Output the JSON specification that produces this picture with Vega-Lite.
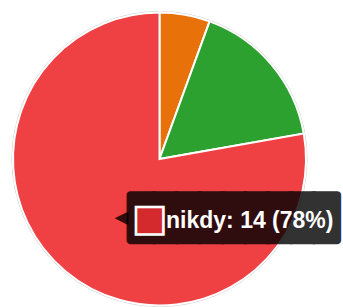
{
  "$schema": "https://vega.github.io/schema/vega-lite/v6.json",
  "width": 319,
  "height": 318,
  "padding": {"left": 0, "top": 0, "right": 24, "bottom": 0},
  "autosize": "none",
  "background": "white",
  "config": {"view": {"stroke": null}},
  "data": {
    "values": [
      {"kategorie": "často", "pocet": 1, "poradi": 1},
      {"kategorie": "občas", "pocet": 3, "poradi": 2},
      {"kategorie": "nikdy", "pocet": 14, "poradi": 3}
    ]
  },
  "layer": [
    {
      "transform": [{"aggregate": [{"op": "sum", "field": "pocet", "as": "celkem"}]}],
      "mark": {"type": "arc", "outerRadius": 147.5, "fill": "#e0e0e0", "stroke": "#cfcfcf", "strokeWidth": 1},
      "encoding": {"theta": {"field": "celkem", "type": "quantitative", "stack": true}}
    },
    {
      "mark": {"type": "arc", "outerRadius": 146.5, "stroke": "white", "strokeWidth": 2},
      "encoding": {
        "theta": {"field": "pocet", "type": "quantitative", "stack": true},
        "order": {"field": "poradi", "type": "quantitative"},
        "color": {
          "field": "kategorie",
          "type": "nominal",
          "scale": {"domain": ["často", "občas", "nikdy"], "range": ["#e8710a", "#2ca130", "#ef4044"]},
          "legend": null
        }
      }
    },
    {
      "mark": {"type": "text", "radius": 70, "font": "DejaVu Sans", "fontSize": 18, "fill": "black", "opacity": 0.8, "align": "left", "baseline": "middle", "dx": 0, "dy": 5.5},
      "encoding": {
        "theta": {"field": "pocet", "type": "quantitative", "stack": true},
        "order": {"field": "poradi", "type": "quantitative"},
        "text": {"condition": {"test": "datum.kategorie === 'nikdy'", "value": "◀"}, "value": ""}
      }
    },
    {
      "mark": {"type": "text", "radius": 70, "font": "DejaVu Sans Mono", "fontSize": 38, "fill": "black", "stroke": "black", "strokeWidth": 8, "strokeJoin": "round", "opacity": 0.8, "align": "left", "baseline": "middle", "dx": 16.5, "dy": 7},
      "encoding": {
        "theta": {"field": "pocet", "type": "quantitative", "stack": true},
        "order": {"field": "poradi", "type": "quantitative"},
        "text": {"condition": {"test": "datum.kategorie === 'nikdy'", "value": "█████████"}, "value": ""}
      }
    },
    {
      "mark": {"type": "text", "radius": 70, "font": "DejaVu Sans", "fontSize": 36, "fill": "#d42a2e", "stroke": "white", "strokeWidth": 2.5, "align": "center", "baseline": "middle", "dx": 35, "dy": 6.5},
      "encoding": {
        "theta": {"field": "pocet", "type": "quantitative", "stack": true},
        "order": {"field": "poradi", "type": "quantitative"},
        "text": {"condition": {"test": "datum.kategorie === 'nikdy'", "value": "■"}, "value": ""}
      }
    },
    {
      "transform": [
        {"joinaggregate": [{"op": "sum", "field": "pocet", "as": "celkem"}]},
        {"calculate": "datum.kategorie === 'nikdy' ? datum.kategorie + ': ' + datum.pocet + ' (' + format(datum.pocet / datum.celkem, '.0%') + ')' : ''", "as": "popisek"}
      ],
      "mark": {"type": "text", "radius": 70, "font": "Liberation Sans", "fontSize": 23, "fontWeight": "bold", "fill": "white", "align": "left", "baseline": "alphabetic", "dx": 51.5, "dy": 15},
      "encoding": {
        "theta": {"field": "pocet", "type": "quantitative", "stack": true},
        "order": {"field": "poradi", "type": "quantitative"},
        "text": {"field": "popisek"}
      }
    }
  ]
}
